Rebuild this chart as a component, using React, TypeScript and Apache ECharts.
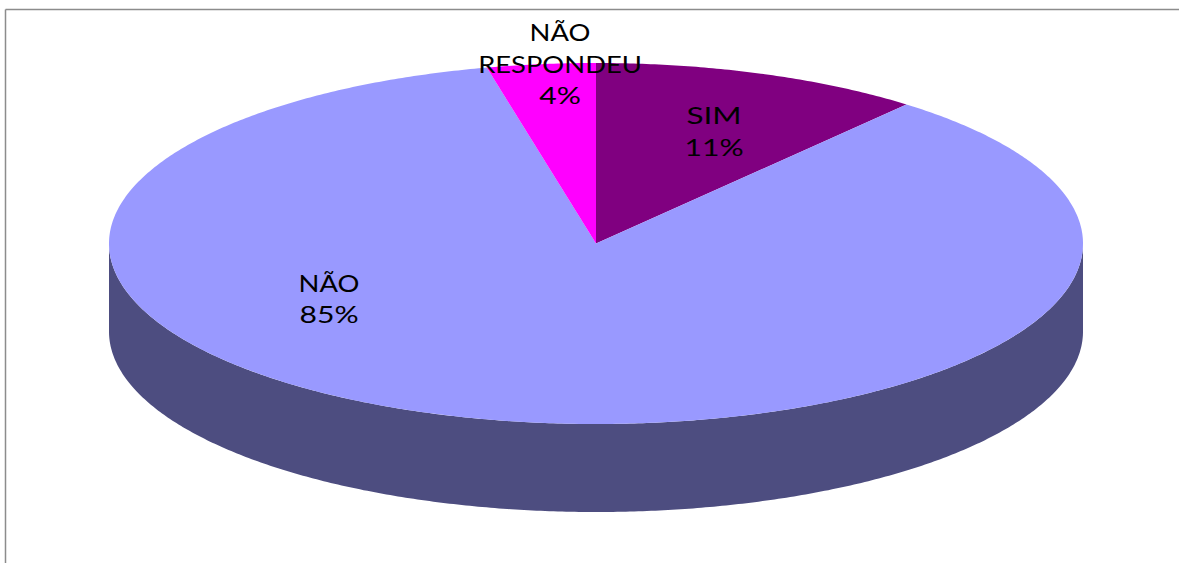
import React, { useEffect, useRef } from "react";
import * as echarts from "echarts";

const categories = ["SIM", "NÃO", "NÃO\nRESPONDEU"];
const shares = [11.0, 85.4, 3.6];
const colors = ["#800080", "#9999FF", "#FF00FF"];
const wallColors = ["#400040", "#4D4D80", "#800080"];

const CX = 596;
const CY = 243.5;
const RX = 487;
const RY = 180.5;
const DEPTH = 88;
const LINE_HEIGHT = 31.5;
const labelCentres: [number, number][] = [
  [714, 131.5],
  [329, 299],
  [560, 63.5],
];
const nameStretch = [1.37, 1.19, 1.19];
const percentStretch = 1.31;

const total = shares.reduce((a, b) => a + b, 0);
const point = (deg: number, dy = 0): number[] => {
  const a = (deg * Math.PI) / 180;
  return [CX + RX * Math.sin(a), CY - RY * Math.cos(a) + dy];
};
const arc = (from: number, to: number, dy = 0): number[][] => {
  const n = Math.max(2, Math.ceil((to - from) * 2));
  const pts: number[][] = [];
  for (let i = 0; i <= n; i++) pts.push(point(from + ((to - from) * i) / n, dy));
  return pts;
};

const renderItem = (params: any, api: any) => {
  const i = params.dataIndex;
  const start = (api.value(1) / total) * 360;
  const end = (api.value(2) / total) * 360;
  const children: any[] = [];
  const wallFrom = Math.max(start, 90);
  const wallTo = Math.min(end, 270);
  if (wallTo > wallFrom) {
    const front = arc(wallFrom, wallTo);
    const back = arc(wallFrom, wallTo, DEPTH).reverse();
    children.push({
      type: "polygon",
      shape: { points: [...front, ...back] },
      style: { fill: wallColors[i] },
    });
  }
  children.push({
    type: "polygon",
    shape: { points: [[CX, CY], ...arc(start, end)] },
    style: { fill: colors[i] },
  });
  const nameLines = categories[i].split("\n").length;
  const top = labelCentres[i][1] - ((nameLines + 1) * LINE_HEIGHT) / 2;
  const textStyle = {
    fontFamily: "Lato",
    fontSize: 23,
    lineHeight: LINE_HEIGHT,
    fill: "#000000",
    align: "center",
    verticalAlign: "top",
  };
  children.push({
    type: "text",
    x: labelCentres[i][0],
    y: top,
    scaleX: nameStretch[i],
    style: { ...textStyle, text: categories[i] },
  });
  children.push({
    type: "text",
    x: labelCentres[i][0],
    y: top + nameLines * LINE_HEIGHT,
    scaleX: percentStretch,
    style: { ...textStyle, text: `${Math.round(shares[i])}%` },
  });
  return { type: "group", children };
};

export default function App() {
  const ref = useRef<HTMLDivElement>(null);
  useEffect(() => {
    const chart = echarts.init(ref.current!, null, { renderer: "svg" });
    let running = 0;
    const data = shares.map((v, i) => {
      const row = [i, running, running + v];
      running += v;
      return row;
    });
    chart.setOption({
      animation: false,
      backgroundColor: "#FFFFFF",
      graphic: [
        { type: "line", shape: { x1: 5.5, y1: 9.5, x2: 1179, y2: 9.5 }, style: { stroke: "#8C8C8C", lineWidth: 1.5 } },
        { type: "line", shape: { x1: 5.5, y1: 9.5, x2: 5.5, y2: 563 }, style: { stroke: "#8C8C8C", lineWidth: 1.5 } },
      ],
      series: [
        {
          type: "custom",
          coordinateSystem: "none",
          renderItem,
          data,
          silent: true,
          z: 5,
        },
      ],
    });
    return () => chart.dispose();
  }, []);
  return (
    <div
      ref={ref}
      style={{ position: "fixed", left: 0, top: 0, width: 1179, height: 563 }}
    />
  );
}
